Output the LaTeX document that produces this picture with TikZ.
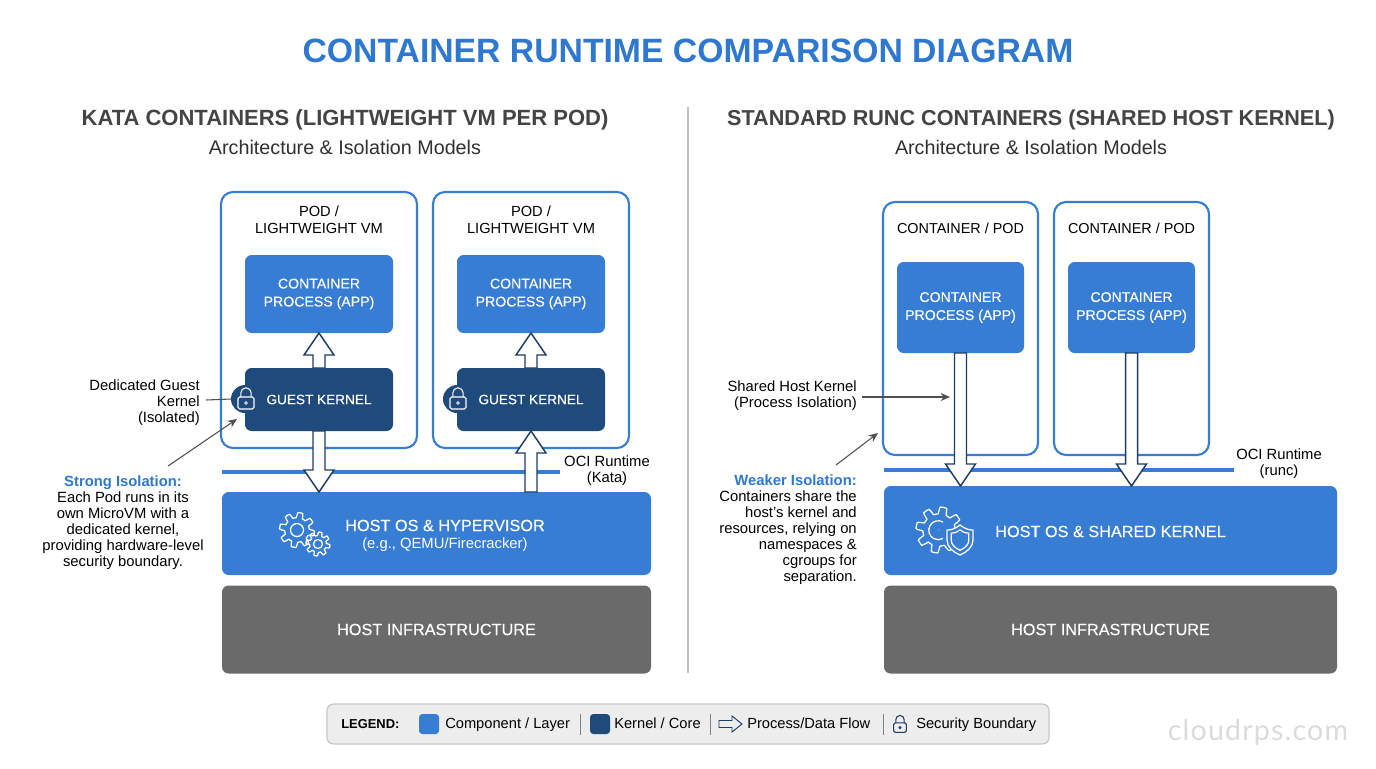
\documentclass[tikz,border=0pt]{standalone}
\usepackage{fontspec}
\setmainfont{Liberation Sans}
\newfontfamily\markfont[LetterSpace=4]{Lato}
\newfontfamily\medfont[FakeBold=0.25]{Liberation Sans}
\usetikzlibrary{calc,arrows.meta}
\definecolor{bluelayer}{HTML}{377DD3}
\definecolor{darkcore}{HTML}{1F4A7C}
\definecolor{greylayer}{HTML}{6A6A6A}
\definecolor{titleblue}{HTML}{2F78D0}
\definecolor{headgrey}{HTML}{444444}
\definecolor{flowline}{HTML}{1C3D66}
\definecolor{leaderline}{HTML}{505050}
\tikzset{
  x=0.75pt,y=-0.75pt,
  sz/.style 2 args={minimum width=#1*0.75pt,minimum height=#2*0.75pt,inner sep=0pt,outer sep=0pt},
  podbox/.style={draw=bluelayer,line width=1.6pt,fill=white,rounded corners=9pt},
  layerbox/.style={fill=bluelayer,rounded corners=5pt,text=white},
  corebox/.style={fill=darkcore,rounded corners=5pt,text=white},
  infrabox/.style={fill=greylayer,rounded corners=5pt,text=white},
  boxtext/.style={font=\medfont\fontsize{10.6}{13.5}\selectfont,align=center},
  kerneltext/.style={font=\medfont\fontsize{10.2}{13.5}\selectfont,align=center},
  plain/.style={font=\fontsize{11.1}{12}\selectfont,text=black,inner sep=0pt},
  legtext/.style={font=\fontsize{11}{12}\selectfont,text=black,inner sep=0pt,anchor=base west},
  rule/.style={line width=2.4pt,draw=bluelayer},
  leader/.style={draw=leaderline,line width=0.8pt},
  leadarrow/.style={leader,-{Stealth[length=7pt,width=6pt]}},
  flow/.style={draw=flowline,line width=1.1pt,fill=white,line join=miter},
  icon/.style={draw=white,line width=0.95pt,line join=round},
}
\newcommand\blockarrow[5]{%
  \coordinate (hb) at ($(#2)!#5*0.75pt!(#1)$);
  \draw[flow] ($(#1)!#3*0.75pt!90:(#2)$) -- ($(hb)!#3*0.75pt!90:(#2)$) -- ($(hb)!#4*0.75pt!90:(#2)$) -- (#2)
     -- ($(hb)!#4*0.75pt!-90:(#2)$) -- ($(hb)!#3*0.75pt!-90:(#2)$) -- ($(#1)!#3*0.75pt!-90:(#2)$) -- cycle;
}
\newcommand\gearicon[5]{%
  \draw[icon] plot[variable=\t,domain=0:360,samples=181]
    ({#1+(#3*(0.85+0.15*max(-1,min(1,2.5*sin(#4*\t)))))*cos(\t)},{#2+(#3*(0.85+0.15*max(-1,min(1,2.5*sin(#4*\t)))))*sin(\t)}) -- cycle;
  \draw[icon] (#1,#2) circle[radius=#5];
}
\newcommand\lockicon[4]{%
  \begin{scope}[shift={(#1,#2)},scale=#3]
    \draw[draw=#4,line width=0.8pt,rounded corners=1.2pt] (-8,-1.5) rectangle (8,10.5);
    \draw[draw=#4,line width=0.8pt] (-5.2,-1.5) -- (-5.2,-5.5) arc[start angle=180,end angle=360,radius=5.2] -- (5.2,-1.5);
    \draw[draw=#4,line width=0.6pt] (0,4.5) circle[radius=1.4];
  \end{scope}
}
\newcommand\shieldpath[1]{%
  (0,-15*#1) .. controls (5*#1,-11*#1) and (9*#1,-10*#1) .. (13*#1,-10*#1)
  -- (13*#1,0) .. controls (13*#1,7*#1) and (7*#1,12*#1) .. (0,15*#1)
  .. controls (-7*#1,12*#1) and (-13*#1,7*#1) .. (-13*#1,0)
  -- (-13*#1,-10*#1) .. controls (-9*#1,-10*#1) and (-5*#1,-11*#1) .. cycle}
\begin{document}
\begin{tikzpicture}
\useasboundingbox (0,0) rectangle (1376,768);
\fill[white] (0,0) rectangle (1376,768);

% titles
\node[font=\bfseries\fontsize{25.3}{30}\selectfont,text=titleblue,inner sep=0pt] (title) at (688,51) {CONTAINER RUNTIME COMPARISON DIAGRAM};
\node[font=\bfseries\fontsize{16.5}{20}\selectfont,text=headgrey,inner sep=0pt] (lefthead) at (345,120) {KATA CONTAINERS (LIGHTWEIGHT VM PER POD)};
\node[font=\fontsize{14.8}{18}\selectfont,text=headgrey!70!black,inner sep=0pt] (leftsub) at (345,147) {Architecture \& Isolation Models};
\node[font=\bfseries\fontsize{16.2}{20}\selectfont,text=headgrey,inner sep=0pt] (righthead) at (1031,120) {STANDARD RUNC CONTAINERS (SHARED HOST KERNEL)};
\node[font=\fontsize{14.8}{18}\selectfont,text=headgrey!70!black,inner sep=0pt] (rightsub) at (1031,147) {Architecture \& Isolation Models};
\coordinate (divtop) at (688,107);
\coordinate (divbot) at (688,673);
\draw[draw=black!25,line width=1.9pt] (divtop) -- (divbot);

% Kata: pods
\node[podbox,sz={196}{256}] (pod1) at (319,320) {};
\node[podbox,sz={196}{256}] (pod2) at (531,320) {};
\node[plain,align=center,font=\fontsize{11}{12.6}\selectfont] (podlab1) at (319,220) {POD /\\LIGHTWEIGHT VM};
\node[plain,align=center,font=\fontsize{11}{12.6}\selectfont] (podlab2) at (531,220) {POD /\\LIGHTWEIGHT VM};
\node[layerbox,boxtext,sz={148}{78}] (cont1) at (319,294) {\rule{0pt}{2pt}CONTAINER\\PROCESS (APP)};
\node[layerbox,boxtext,sz={148}{78}] (cont2) at (531,294) {\rule{0pt}{2pt}CONTAINER\\PROCESS (APP)};
\node[corebox,kerneltext,sz={148}{63}] (guest1) at (319,399.5) {GUEST KERNEL};
\node[corebox,kerneltext,sz={148}{63}] (guest2) at (531,399.5) {GUEST KERNEL};
\node[circle,fill=darkcore,sz={28}{28}] (lockbg1) at (245,399) {};
\node[circle,fill=darkcore,sz={28}{28}] (lockbg2) at (457,399) {};
\lockicon{246}{398.5}{1}{white}
\lockicon{458}{398.5}{1}{white}

% Kata: runtime rule and layers
\coordinate (katarulea) at (222,472);
\coordinate (kataruleb) at (560,472);
\draw[rule] (katarulea) -- (kataruleb);
\node[layerbox,sz={429}{83}] (hostk) at (436.5,533.5) {};
\node[infrabox,sz={429}{88},font=\medfont\fontsize{12.2}{15}\selectfont] (infrak) at (436.5,629.5) {HOST INFRASTRUCTURE};
\node[text=white,inner sep=0pt,anchor=west,font=\medfont\fontsize{12.2}{15}\selectfont] (hostkt) at (345,525.5) {HOST OS \& HYPERVISOR};
\node[text=white,inner sep=0pt,anchor=west,font=\fontsize{11.1}{13}\selectfont] (hostks) at (362,545) {(e.g., QEMU/Firecracker)};
\gearicon{297}{530}{17.5}{8}{6.5}
\gearicon{318}{544}{12}{8}{4.5}

% Kata: flows
\blockarrow{guest1.north}{cont1.south}{6}{15}{22}
\blockarrow{guest2.north}{cont2.south}{6}{15}{22}
\blockarrow{guest1.south}{guest1.south |- hostk.north}{6}{15}{22}
\blockarrow{guest2.south |- hostk.north}{guest2.south}{6}{15}{22}

% Kata: labels
\node[plain,align=right,anchor=east] (dedlab) at (200,403) {Dedicated Guest\\Kernel\\(Isolated)};
\coordinate (dedend) at (206,400);
\draw[leader] (dedend) -- (lockbg1.west);
\node[plain,align=center] (stronglab) at (123,522.5) {\textcolor{titleblue}{\bfseries Strong Isolation:}\\Each Pod runs in its\\own MicroVM with a\\dedicated kernel,\\providing hardware-level\\security boundary.};
\coordinate (stronga) at (168,466);
\coordinate (strongb) at (237,419);
\draw[leadarrow] (stronga) -- (strongb);
\node[plain,align=center] (ocik) at (607,471) {OCI Runtime\\(Kata)};

% runc: pods
\node[podbox,sz={155}{253}] (pod3) at (960.5,328.5) {};
\node[podbox,sz={155}{253}] (pod4) at (1131.5,328.5) {};
\node[plain,font=\fontsize{10.8}{12}\selectfont] (podlab3) at (960.5,228.5) {CONTAINER / POD};
\node[plain,font=\fontsize{10.8}{12}\selectfont] (podlab4) at (1131.5,228.5) {CONTAINER / POD};
\node[layerbox,boxtext,sz={127}{91}] (cont3) at (960.5,307.5) {\rule{0pt}{2pt}CONTAINER\\PROCESS (APP)};
\node[layerbox,boxtext,sz={127}{91}] (cont4) at (1131.5,307.5) {\rule{0pt}{2pt}CONTAINER\\PROCESS (APP)};

% runc: runtime rule and layers
\coordinate (runcrulea) at (884,470);
\coordinate (runcruleb) at (1234,470);
\draw[rule] (runcrulea) -- (runcruleb);
\node[layerbox,sz={453}{89}] (hostr) at (1110.5,530.5) {};
\node[infrabox,sz={453}{88},font=\medfont\fontsize{12.2}{15}\selectfont] (infrar) at (1110.5,629.5) {HOST INFRASTRUCTURE};
\node[text=white,inner sep=0pt,anchor=west,font=\medfont\fontsize{12.2}{15}\selectfont] (hostrt) at (995,531.5) {HOST OS \& SHARED KERNEL};
\gearicon{939}{530}{23}{8}{0.01}
\draw[icon] (943,522) arc[start angle=-60,end angle=-300,radius=9.5];
\begin{scope}[shift={(960,540)}]
  \draw[icon,fill=bluelayer] \shieldpath{1};
  \draw[icon] \shieldpath{0.68};
\end{scope}

% runc: flows
\blockarrow{cont3.south}{cont3.south |- hostr.north}{6}{15}{22}
\blockarrow{cont4.south}{cont4.south |- hostr.north}{6}{15}{22}

% runc: labels
\node[plain,align=right,anchor=east] (sharedlab) at (857,395.5) {Shared Host Kernel\\(Process Isolation)};
\coordinate (shareda) at (862,397);
\coordinate (sharedb) at (950,397);
\draw[leadarrow] (shareda) -- (sharedb);
\node[plain,align=right,anchor=east] (weaklab) at (857,530) {\textcolor{titleblue}{\bfseries Weaker Isolation:}\\Containers share the\\host's kernel and\\resources, relying on\\namespaces \&\\cgroups for\\separation.};
\coordinate (weaka) at (836,465);
\coordinate (weakb) at (878,433);
\draw[leadarrow] (weaka) -- (weakb);
\node[plain,align=center] (ocir) at (1279,464) {OCI Runtime\\(runc)};

% legend
\node[draw=black!22,line width=0.9pt,fill=black!7,rounded corners=5pt,sz={722}{40}] (legend) at (688,724) {};
\node[legtext,font=\bfseries\fontsize{9.7}{12}\selectfont] (leglab) at (341,728.5) {LEGEND:};
\node[fill=bluelayer,rounded corners=2.5pt,sz={20}{20}] (swblue) at (429,724) {};
\node[legtext] (legblue) at (445,728.5) {Component / Layer};
\coordinate (sepa1) at (580,714); \coordinate (sepa2) at (580,735);
\draw[draw=black!50,line width=0.6pt] (sepa1) -- (sepa2);
\node[fill=darkcore,rounded corners=2.5pt,sz={20}{20}] (swdark) at (600,724) {};
\node[legtext] (legdark) at (614,728.5) {Kernel / Core};
\coordinate (sepb1) at (710,714); \coordinate (sepb2) at (710,735);
\draw[draw=black!50,line width=0.6pt] (sepb1) -- (sepb2);
\coordinate (lfa) at (719,724); \coordinate (lfb) at (742,724);
\begin{scope}[flow/.append style={line width=0.7pt,fill=black!7}]
  \blockarrow{lfa}{lfb}{3.5}{8}{10}
\end{scope}
\node[legtext] (legflow) at (747,728.5) {Process/Data Flow};
\coordinate (sepc1) at (883,714); \coordinate (sepc2) at (883,735);
\draw[draw=black!50,line width=0.6pt] (sepc1) -- (sepc2);
\lockicon{900}{724}{0.8}{flowline}
\node[legtext] (legsec) at (916,728.5) {Security Boundary};

% watermark
\node[inner sep=0pt,text=black!14,font=\markfont\fontsize{21.5}{26}\selectfont] (mark) at (1258,732) {cloudrps.com};
\end{tikzpicture}
\end{document}
